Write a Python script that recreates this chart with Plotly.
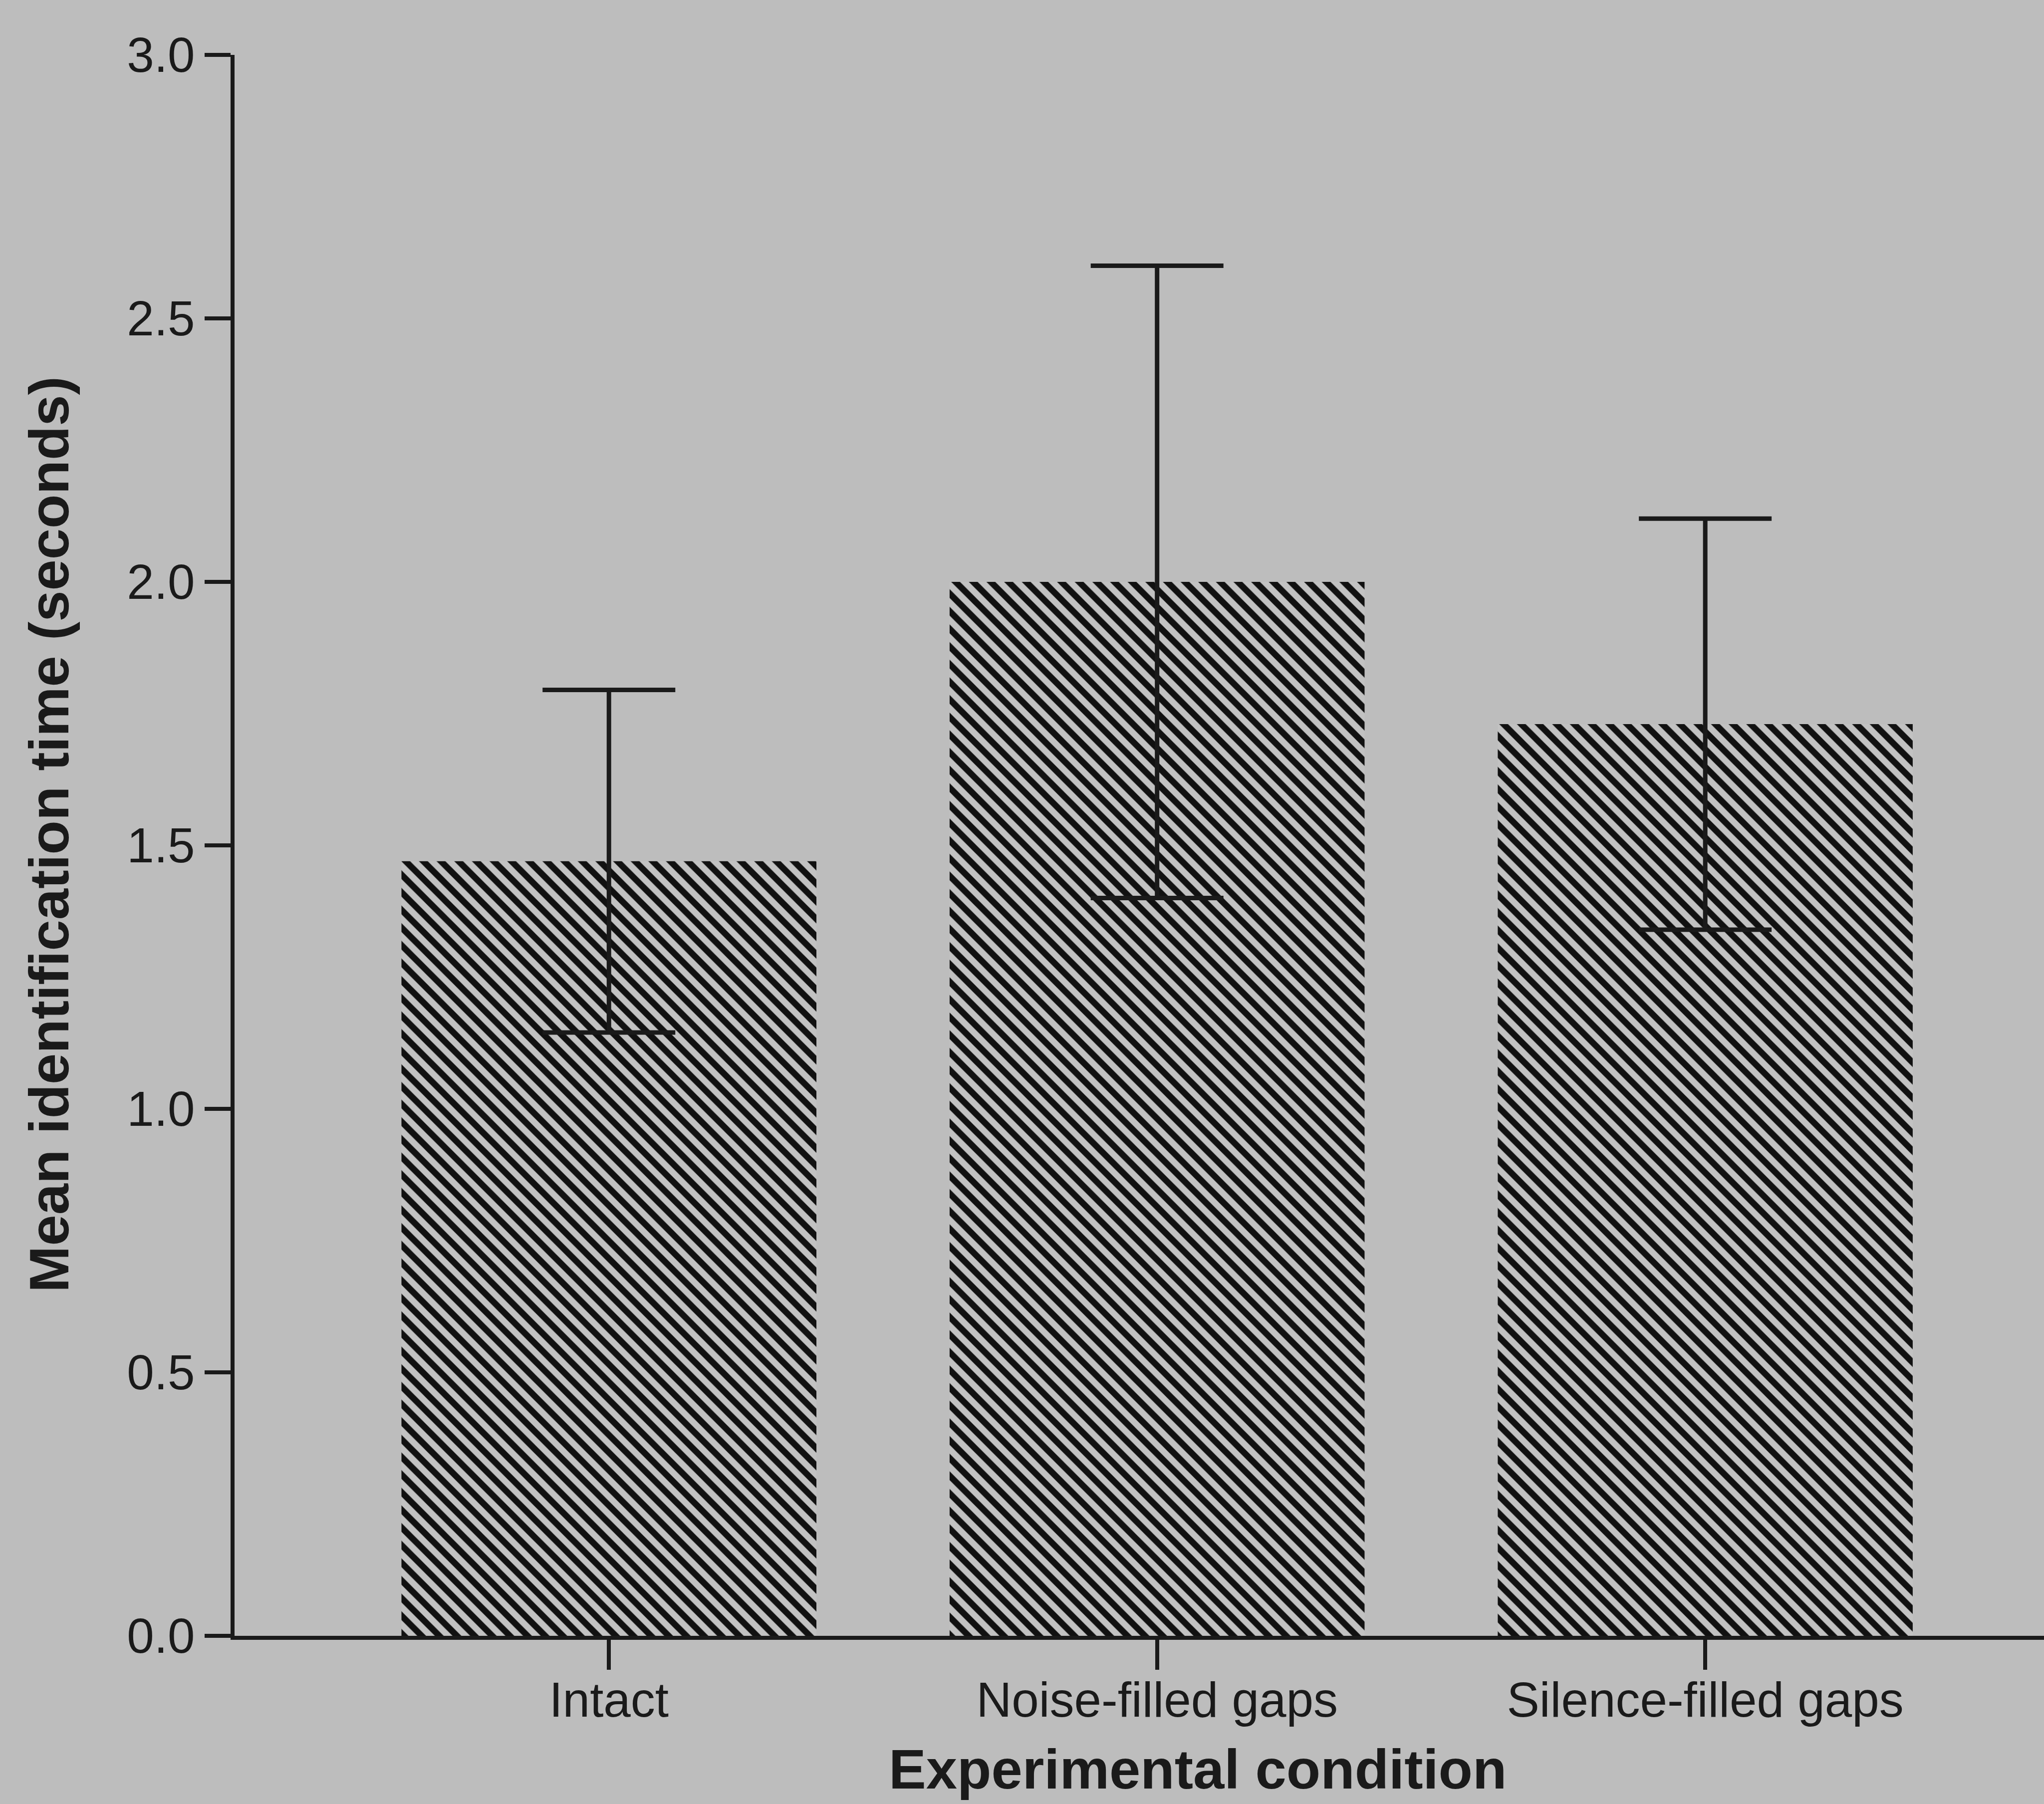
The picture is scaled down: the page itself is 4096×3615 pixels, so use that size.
import plotly.graph_objects as go

categories = ["Intact", "Noise-filled gaps", "Silence-filled gaps"]
mean_times = [1.47, 2.00, 1.73]
error_vals = [0.325, 0.60, 0.39]
y_ticks = [0.0, 0.5, 1.0, 1.5, 2.0, 2.5, 3.0]
y_tick_labels = ["0.0", "0.5", "1.0", "1.5", "2.0", "2.5", "3.0"]

BG = "#bdbdbd"
INK = "#1a1a1a"
FONT = "Liberation Sans, Arial, Helvetica, sans-serif"

W, H = 4096, 3615
L, R, T, B = 470, 0, 110, 337

fig = go.Figure()
fig.add_trace(go.Bar(
    x=categories,
    y=mean_times,
    marker=dict(
        color="#c4c4c4",
        line=dict(width=0),
        pattern=dict(shape="\\", fgcolor="#111111", bgcolor="#c2c2c2", fgopacity=1,
                     size=25, solidity=0.5, fillmode="replace"),
    ),
    error_y=dict(type="data", array=error_vals, symmetric=True, color=INK, thickness=9, width=133),
    width=0.757,
    showlegend=False,
))

fig.update_layout(
    width=W, height=H,
    margin=dict(l=L, r=R, t=T, b=B, pad=0),
    paper_bgcolor=BG, plot_bgcolor=BG,
    font=dict(family=FONT, color=INK, size=98),
    xaxis=dict(
        range=[-0.683, 2.618],
        showline=True, linecolor=INK, linewidth=8,
        ticks="outside", ticklen=60, tickwidth=8, tickcolor=INK,
        tickfont=dict(family=FONT, size=98, color=INK),
        ticklabelstandoff=-24,
        showgrid=False, zeroline=False,
    ),
    yaxis=dict(
        range=[0, 3],
        tickvals=y_ticks, ticktext=y_tick_labels,
        showline=True, linecolor=INK, linewidth=8,
        ticks="outside", ticklen=52, tickwidth=8, tickcolor=INK,
        tickfont=dict(family=FONT, size=98, color=INK),
        showgrid=False, zeroline=False,
    ),
    annotations=[
        dict(text="<b>Experimental condition</b>", xref="paper", yref="paper",
             x=0.5323, y=-0.0845, xanchor="center", yanchor="middle", showarrow=False,
             font=dict(family=FONT, size=112, color=INK)),
        dict(text="<b>Mean identification time (seconds)</b>", xref="paper", yref="paper",
             x=-0.1023, y=0.507, xanchor="center", yanchor="middle", textangle=-90, showarrow=False,
             font=dict(family=FONT, size=112, color=INK)),
    ],
)

fig.write_html("out.html")
